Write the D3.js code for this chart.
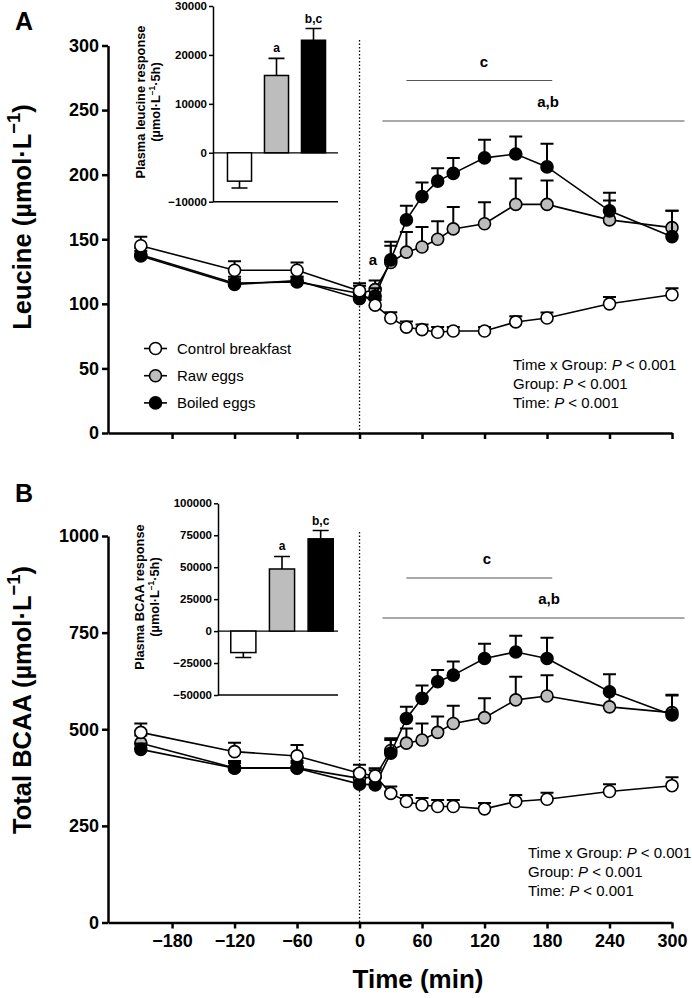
<!DOCTYPE html>
<html>
<head>
<meta charset="utf-8">
<script src="https://cdn.jsdelivr.net/npm/d3@7"></script>
<style>
  body { margin: 0; background: #fff; }
  svg { display: block; font-family: Arial, "Liberation Sans", sans-serif; }
  .axis .domain, .axis .tick line { stroke: #000; stroke-width: 2.5px; }
  .axis text { font-size: 18px; font-weight: bold; fill: #000; }
  .inax .domain, .inax .tick line { stroke: #000; stroke-width: 1.5px; }
  .inax text { font-size: 11.5px; font-weight: bold; fill: #000; }
</style>
</head>
<body>
<svg id="chart" width="692" height="998"></svg>
<script>

// Sampling times (min) and axis ticks
var times = [-210, -120, -60, 0, 15, 30, 45, 60, 75, 90, 120, 150, 180, 240, 300];
var timeTicks = [-180, -120, -60, 0, 60, 120, 180, 240, 300];
var groups = ["Control breakfast", "Raw eggs", "Boiled eggs"];
var groupFill = ["#ffffff", "#bdbdbd", "#000000"];

// Panel A - plasma leucine (umol/L), mean and SEM
var leuControl    = [145, 126, 126, 110, 99, 89, 82, 80, 78, 79, 79, 86, 89, 100, 107];
var leuControlSem = [7, 7, 6, 6, 4, 4.5, 4.3, 4, 4, 3, 3, 4.4, 4.3, 5.3, 5];
var leuRaw        = [138, 116, 117, 108, 111, 132, 140, 144, 150, 158, 162, 177, 177, 165, 159];
var leuRawSem     = [5, 5, 4, 6, 7, 13, 15.6, 15.4, 14, 17, 16.7, 20, 18.5, 15, 13];
var leuBoiled     = [137, 115, 118, 104, 106, 134, 165, 183, 195, 201, 213, 216, 206, 172, 152];
var leuBoiledSem  = [4, 4, 3, 5, 6, 14, 11, 11, 10, 12, 14, 13.5, 18, 14, 20];
var leuTicks = [0, 50, 100, 150, 200, 250, 300];

// Panel A inset - leucine response (umol/L x 5h)
var leuAuc    = [-5800, 15800, 23000];
var leuAucSem = [1400, 3500, 2400];
var leuAucLetters = ["", "a", "b,c"];
var leuAucTicks = [-10000, 0, 10000, 20000, 30000];

// Panel B - total BCAA (umol/L), mean and SEM
var bcaaControl    = [492, 442, 431, 386, 379, 334, 313, 304, 300, 300, 294, 313, 319, 339, 354];
var bcaaControlSem = [23, 23, 28, 22, 15, 18, 17, 18, 17, 17, 15, 17, 17, 19, 22];
var bcaaRaw        = [464, 400, 400, 373, 377, 445, 464, 472, 492, 515, 530, 576, 586, 558, 543];
var bcaaRawSem     = [20, 18, 18, 20, 22, 27, 38, 43, 41, 46, 50, 60, 54, 42, 46];
var bcaaBoiled     = [448, 399, 399, 358, 356, 438, 528, 580, 623, 640, 683, 700, 683, 597, 537];
var bcaaBoiledSem  = [15, 14, 14, 18, 20, 39, 30, 33, 30, 35, 38, 42, 54, 45, 50];
var bcaaTicks = [0, 250, 500, 750, 1000];

// Panel B inset - BCAA response (umol/L x 5h)
var bcaaAuc    = [-16800, 48600, 72200];
var bcaaAucSem = [3900, 9800, 6500];
var bcaaAucLetters = ["", "a", "b,c"];
var bcaaAucTicks = [-50000, -25000, 0, 25000, 50000, 75000, 100000];

// Significance bars (time range, min)
var sigLabels = ["c", "a,b"];
var sigFrom   = [45, 22];
var sigTo     = [185, 312];

var statLines = ["Time x Group: ", "Group: ", "Time: "];

var svg = d3.select("#chart");
var x = d3.scaleLinear().domain([-241.5, 300]).range([108, 672]);
var fmt = d3.format("d");

function supLabel(sel, before, after, size, k) {
  sel.append("tspan").text(before);
  sel.append("tspan").attr("font-size", size * k).attr("dy", -size * 0.42).text("\u22121");
  sel.append("tspan").attr("dy", size * 0.42).text(after);
}

function panel(o) {
  var g = svg.append("g");
  var y = d3.scaleLinear().domain([0, o.yMax]).range([o.y0, o.y1]);

  g.append("g").attr("class", "axis")
    .attr("transform", "translate(108,0)")
    .call(d3.axisLeft(y).tickValues(o.yTicks).tickSize(6).tickSizeOuter(0).tickPadding(3).tickFormat(fmt));

  g.append("g").attr("class", "axis")
    .attr("transform", "translate(0," + o.y0 + ")")
    .call(d3.axisBottom(x).tickValues(timeTicks).tickSize(6).tickSizeOuter(0).tickPadding(6)
      .tickFormat(o.showX ? fmt : ""));

  // meal time
  g.append("line")
    .attr("x1", x(0)).attr("x2", x(0))
    .attr("y1", o.dotTop).attr("y2", o.y0)
    .attr("stroke", "#000").attr("stroke-width", 1.3).attr("stroke-dasharray", "1.5,2");

  // significance bars
  sigLabels.forEach(function(lab, i) {
    g.append("line")
      .attr("x1", x(sigFrom[i])).attr("x2", x(sigTo[i]))
      .attr("y1", o.sigY[i]).attr("y2", o.sigY[i])
      .attr("stroke", "#555").attr("stroke-width", 1.2);
    g.append("text")
      .attr("x", o.sigX[i]).attr("y", o.sigY[i] - 14)
      .attr("text-anchor", "middle")
      .attr("font-size", 15).attr("font-weight", "bold")
      .text(lab);
  });

  // series: raw, boiled, control
  [1, 2, 0].forEach(function(k) {
    var vals = o.series[k], sem = o.sems[k];
    var pts = times.map(function(t, i) { return { t: t, v: vals[i], e: sem[i] }; });
    var s = g.append("g");

    s.selectAll(".eb").data(pts).enter().append("path")
      .attr("d", function(d) {
        var cx = x(d.t), top = y(d.v + d.e);
        return "M" + cx + "," + y(d.v) + "V" + top + "M" + (cx - 6.5) + "," + top + "H" + (cx + 6.5);
      })
      .attr("stroke", "#000").attr("stroke-width", 2).attr("fill", "none");

    s.append("path").datum(pts)
      .attr("d", d3.line().x(function(d) { return x(d.t); }).y(function(d) { return y(d.v); }))
      .attr("fill", "none").attr("stroke", "#000").attr("stroke-width", 1.6);

    s.selectAll("circle").data(pts).enter().append("circle")
      .attr("cx", function(d) { return x(d.t); })
      .attr("cy", function(d) { return y(d.v); })
      .attr("r", 6)
      .attr("fill", groupFill[k]).attr("stroke", "#000").attr("stroke-width", 1.6);
  });

  // y title
  var yt = g.append("text")
    .attr("transform", "translate(31," + o.titleY + ") rotate(-90)")
    .attr("text-anchor", "middle")
    .attr("font-size", 25.5).attr("font-weight", "bold");
  supLabel(yt, o.title + " (\u00b5mol\u00b7L", ")", 25.5, 0.72);

  // panel letter
  g.append("text").attr("x", 15).attr("y", o.letterY)
    .attr("font-size", 25).attr("font-weight", "bold").text(o.letter);

  // stats
  statLines.forEach(function(s, i) {
    var t = g.append("text").attr("x", o.statX).attr("y", o.statY + i * 18.8).attr("font-size", 15);
    t.append("tspan").text(s);
    t.append("tspan").attr("font-style", "italic").text("P");
    t.append("tspan").text(" < 0.001");
  });

  return { g: g, y: y };
}

function inset(o) {
  var g = svg.append("g");
  var y = d3.scaleLinear().domain([o.ticks[0], o.ticks[o.ticks.length - 1]]).range([o.yBot, o.yTop]);
  var xb = d3.scaleBand().domain(groups).range([o.bx0, o.bx1]).paddingInner(0.35).paddingOuter(0.175);

  g.append("g").attr("class", "inax")
    .attr("transform", "translate(" + o.x0 + ",0)")
    .call(d3.axisLeft(y).tickValues(o.ticks).tickSize(4).tickSizeOuter(0).tickPadding(2).tickFormat(fmt));
  g.append("line")
    .attr("x1", o.x0).attr("x2", o.x1).attr("y1", o.yBot).attr("y2", o.yBot)
    .attr("stroke", "#000").attr("stroke-width", 1.5);
  g.append("line")
    .attr("x1", o.x0).attr("x2", o.x1).attr("y1", y(0)).attr("y2", y(0))
    .attr("stroke", "#000").attr("stroke-width", 1.2);

  groups.forEach(function(gr, i) {
    var v = o.vals[i], e = o.sems[i];
    var cx = xb(gr) + xb.bandwidth() / 2;
    var tip = v < 0 ? y(v - e) : y(v + e);
    g.append("path")
      .attr("d", "M" + cx + "," + y(v) + "V" + tip + "M" + (cx - 8) + "," + tip + "H" + (cx + 8))
      .attr("stroke", "#000").attr("stroke-width", 1.6).attr("fill", "none");
    g.append("rect")
      .attr("x", xb(gr)).attr("width", xb.bandwidth())
      .attr("y", Math.min(y(v), y(0))).attr("height", Math.abs(y(v) - y(0)))
      .attr("fill", groupFill[i]).attr("stroke", "#000").attr("stroke-width", 1.5);
    if (o.letters[i]) {
      g.append("text").attr("x", cx).attr("y", tip - 6)
        .attr("text-anchor", "middle").attr("font-size", 12).attr("font-weight", "bold")
        .text(o.letters[i]);
    }
  });

  g.append("text")
    .attr("transform", "translate(" + (o.labX + 4.5) + "," + o.labY + ") rotate(-90)")
    .attr("text-anchor", "middle").attr("font-size", 12.8).attr("font-weight", "bold")
    .text(o.label);
  var l2 = g.append("text")
    .attr("transform", "translate(" + (o.labX + 20) + "," + o.labY + ") rotate(-90)")
    .attr("text-anchor", "middle").attr("font-size", 12.8).attr("font-weight", "bold");
  supLabel(l2, "(\u00b5mol\u00b7L", "\u00b75h)", 12.8, 0.65);
}

panel({
  yMax: 300, y0: 433, y1: 45.5, yTicks: leuTicks, showX: false, dotTop: 40,
  series: [leuControl, leuRaw, leuBoiled], sems: [leuControlSem, leuRawSem, leuBoiledSem],
  sigY: [80.5, 121], sigX: [484, 548],
  title: "Leucine", titleY: 217, letter: "A", letterY: 30,
  statX: 513, statY: 370
});
svg.append("text").attr("x", 373).attr("y", 265).attr("text-anchor", "middle")
  .attr("font-size", 15).attr("font-weight", "bold").text("a");

// legend
var leg = svg.append("g").selectAll("g").data(groups).enter().append("g")
  .attr("transform", function(d, i) { return "translate(155.5," + (348.5 + i * 27.2) + ")"; });
leg.append("line").attr("x1", -11.5).attr("x2", 11.5).attr("stroke", "#000").attr("stroke-width", 1.6);
leg.append("circle").attr("r", 6)
  .attr("fill", function(d, i) { return groupFill[i]; })
  .attr("stroke", "#000").attr("stroke-width", 1.6);
leg.append("text").attr("x", 21.5).attr("dy", "0.35em").attr("font-size", 15)
  .text(function(d) { return d; });

panel({
  yMax: 1000, y0: 922.5, y1: 536, yTicks: bcaaTicks, showX: true, dotTop: 532,
  series: [bcaaControl, bcaaRaw, bcaaBoiled], sems: [bcaaControlSem, bcaaRawSem, bcaaBoiledSem],
  sigY: [578, 618], sigX: [487, 549],
  title: "Total BCAA", titleY: 700, letter: "B", letterY: 502,
  statX: 528, statY: 858
});

inset({
  ticks: leuAucTicks, yBot: 201.7, yTop: 6, x0: 213, x1: 338, bx0: 221, bx1: 332,
  vals: leuAuc, sems: leuAucSem, letters: leuAucLetters,
  label: "Plasma leucine response", labX: 140, labY: 102
});
inset({
  ticks: bcaaAucTicks, yBot: 695, yTop: 503.3, x0: 218, x1: 338, bx0: 224, bx1: 340,
  vals: bcaaAuc, sems: bcaaAucSem, letters: bcaaAucLetters,
  label: "Plasma BCAA response", labX: 139, labY: 597
});

svg.append("text").attr("x", 418).attr("y", 988).attr("text-anchor", "middle")
  .attr("font-size", 26).attr("font-weight", "bold").text("Time (min)");

</script>
</body>
</html>
